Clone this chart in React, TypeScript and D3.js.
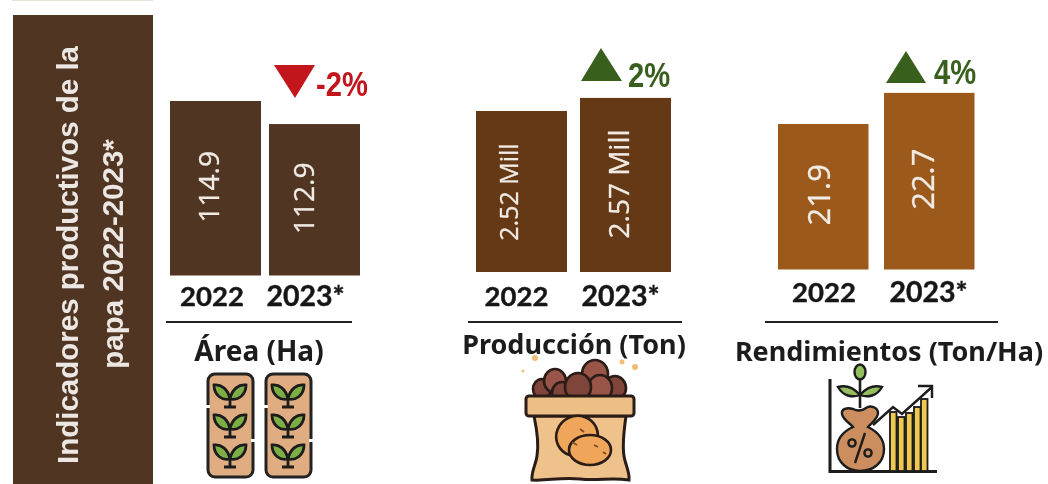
import React from "react";
import * as d3 from "d3";

const years = ["2022", "2023*"];
const areaValues = [114.9, 112.9];
const areaLabels = ["114.9", "112.9"];
const prodValues = [2.52, 2.57];
const prodLabels = ["2.52 Mill", "2.57 Mill"];
const yieldValues = [21.9, 22.7];
const yieldLabels = ["21.9", "22.7"];
const titleLines = ["Indicadores productivos de la", "papa 2022-2023*"];

const areaCfg = { xs: [170, 269], w: 91, base: 275.5, dom: [99.77, 114.9], top: 101, fill: "#4f3523", title: "Área (Ha)", tx: 259, ly: 322, lx: [166, 352], yearX: [212, 305.5], yearY: 306, titleY: 361, titleSize: 28, labelX: [208, 303], labelSize: [28, 28], labelDy: [-1.5, -1.5] };
const prodCfg = { xs: [476, 580], w: 91, base: 272, dom: [1.905, 2.52], top: 111, fill: "#653714", title: "Producción (Ton)", tx: 574, ly: 322, lx: [468, 682], yearX: [516.5, 620.5], yearY: 306, titleY: 354, titleSize: 27, labelX: [508, 618], labelSize: [25, 28], labelDy: [0.5, -1] };
const yieldCfg = { xs: [778, 884], w: 90.5, base: 269.5, dom: [18.16, 21.9], top: 124, fill: "#9b5a1a", title: "Rendimientos (Ton/Ha)", tx: 889, ly: 322, lx: [765, 998], yearX: [824, 928.5], yearY: 302, titleY: 361, titleSize: 27, labelX: [818, 922], labelSize: [31, 31], labelDy: [-2, -2] };

function Bars({ cfg, values, labels }: any) {
  const y = d3.scaleLinear().domain(cfg.dom).range([cfg.base, cfg.top]);
  return (
    <g>
      {values.map((v: number, i: number) => (
        <g key={i}>
          <rect x={cfg.xs[i]} y={y(v)} width={cfg.w} height={cfg.base - y(v)} fill={cfg.fill} />
          <text transform={`translate(${cfg.labelX[i]},${(y(v) + cfg.base) / 2 + cfg.labelDy[i]}) rotate(-90)`} textAnchor="middle" dominantBaseline="central" fill="#f1ebe5" stroke="#f1ebe5" strokeWidth={0.3} fontFamily="Open Sans" fontSize={cfg.labelSize[i]}>{labels[i]}</text>
          <text x={cfg.yearX[i]} y={cfg.yearY} textAnchor="middle" fontFamily="Lato" fontWeight={700} fontSize={i ? 28.5 : 27.5} stroke="#161616" strokeWidth={0.4} fill="#161616">{years[i]}</text>
        </g>
      ))}
      <line x1={cfg.lx[0]} x2={cfg.lx[1]} y1={cfg.ly} y2={cfg.ly} stroke="#222" strokeWidth={2} />
      <text x={cfg.tx} y={cfg.titleY} textAnchor="middle" fontFamily="Noto Sans" fontWeight={700} fontSize={cfg.titleSize} fill="#1c1c1c">{cfg.title}</text>
    </g>
  );
}

function Sprout({ x, y }: { x: number; y: number }) {
  return (
    <g transform={`translate(${x},${y})`}>
      <path d="M0 6C-2 -4 -9 -9 -16 -8C-16 2 -8 8 0 6Z" fill="#7cae44" stroke="#1d1d1d" strokeWidth={2.8} />
      <path d="M0 6C2 -4 9 -9 16 -8C16 2 8 8 0 6Z" fill="#7cae44" stroke="#1d1d1d" strokeWidth={2.8} />
      <path d="M0 6V14M-6 14H6" stroke="#1d1d1d" strokeWidth={2.8} fill="none" />
    </g>
  );
}

function Plots() {
  const plants = [[230, 393], [230, 423], [230, 453], [288, 393], [288, 423], [288, 453]];
  return (
    <g>
      {[208, 266].map((x) => (
        <g key={x}>
          <rect x={x} y={374} width={45} height={103} rx={7} fill="#e0ad82" stroke="#222" strokeWidth={3} />
          <rect x={x - 2} y={405} width={4} height={3} fill="#fff" />
          <rect x={x + 43} y={439} width={4} height={3} fill="#fff" />
        </g>
      ))}
      {plants.map(([x, y]) => <Sprout key={`${x}-${y}`} x={x} y={y} />)}
    </g>
  );
}

function Sack() {
  const tops = [[542, 389, 9], [555, 381, 11], [615, 388, 11], [595, 374, 13], [562, 393, 10], [600, 388, 12], [578, 387, 13]];
  const specks = [[535, 358, 3], [622, 362, 2.5], [635, 367, 3], [523, 371, 1.5]];
  return (
    <g stroke="#2a1a15" strokeWidth={2.6}>
      {specks.map(([cx, cy, r], i) => <circle key={i} cx={cx} cy={cy} r={r} fill="#f2bb78" stroke="none" />)}
      {tops.map(([cx, cy, r], i) => <ellipse key={i} cx={cx} cy={cy} rx={r} ry={r + 1} fill={i % 2 ? "#9a5449" : "#7f443b"} />)}
      <path d="M534 416H626C624 430 622 444 624 456C625 464 630 472 629 480C610 477 600 481 580 479C560 477 548 481 532 480C531 472 536 464 537 456C539 444 537 430 534 416Z" fill="#efc28c" strokeWidth={3} />
      <rect x={526} y={396} width={108} height={20} rx={3} fill="#ecbf86" strokeWidth={3} />
      <ellipse cx={577} cy={436} rx={21} ry={20} fill="#f0a65a" transform="rotate(-25 577 436)" />
      <ellipse cx={590} cy={450} rx={21} ry={15} fill="#f0a65a" />
      <path d="M580 429l4 3M572 442l5 3M594 445l4 2M603 452l3 2" stroke="#7a4a25" strokeWidth={1.6} fill="none" />
    </g>
  );
}

function Growth() {
  const stripes = [[890, 412], [898, 417], [906, 413], [914, 407], [921, 399]];
  return (
    <g fill="none" stroke="#1b1b1b" strokeWidth={2.4}>
      <path d="M830 379V471.5H937" strokeWidth={3} />
      {stripes.map(([x, y]) => (
        <rect key={x} x={x} y={y} width={6.5} height={471 - y} fill="#edc94f" strokeWidth={1.8} />
      ))}
      <path d="M873 425L893 407L902 414L932 387M918 386H932V398" strokeWidth={2.4} />
      <path d="M853 409C847 407 841 409 842 414C843 420 850 423 853 427C842 432 837 440 837 449C837 463 848 471 860 471C873 471 884 463 884 449C884 440 878 432 868 427C871 423 878 419 878 413C878 407 870 405 866 408C862 411 857 411 853 409Z" fill="#cc8e5e" />
      <path d="M860 408V378" strokeWidth={2.6} />
      <path d="M860 395C853 387 846 385 838 387C843 396 852 398 860 395ZM860 395C867 387 874 385 882 387C877 396 868 398 860 395Z" fill="#94bf5e" />
      <ellipse cx={860} cy={372} rx={5.5} ry={7.5} fill="#94bf5e" />
      <path d="M855 463L865 433" />
      <circle cx={852} cy={443} r={3.6} />
      <circle cx={868} cy={453} r={3.6} />
    </g>
  );
}

export default function App() {
  return (
    <svg width={1048} height={484} style={{ position: "absolute", left: 0, top: 0, background: "#fff" }}>
      <defs>
        <filter id="soft" x="-2%" y="-2%" width="104%" height="104%"><feGaussianBlur stdDeviation={0.6} /></filter>
      </defs>
      <g filter="url(#soft)">
        <rect x={12} y={0} width={141} height={1} fill="#dfe5d8" />
        <rect x={13} y={15} width={140} height={469} fill="#4f3523" />
        {titleLines.map((t, i) => (
          <text key={t} transform={`translate(${[78, 123][i]},${[464, 254][i]}) rotate(-90)`} textAnchor={["start", "middle"][i]} fontFamily="Liberation Sans" fontWeight={700} fontSize={29.5} fill="#ece7e2">{t}</text>
        ))}
        <Bars cfg={areaCfg} values={areaValues} labels={areaLabels} />
        <Bars cfg={prodCfg} values={prodValues} labels={prodLabels} />
        <Bars cfg={yieldCfg} values={yieldValues} labels={yieldLabels} />
        <path d="M274 65H315L295 98Z" fill="#c2171d" />
        <text transform="translate(316,96) scale(0.81,1)" fontFamily="Liberation Sans" fontWeight={700} fontSize={36} fill="#c2171d">-2%</text>
        <path d="M581 81H622L601 48Z" fill="#38601f" />
        <text transform="translate(628,87) scale(0.81,1)" fontFamily="Liberation Sans" fontWeight={700} fontSize={36} fill="#38601f">2%</text>
        <path d="M886 83H926L906 51Z" fill="#38601f" />
        <text transform="translate(934,84) scale(0.81,1)" fontFamily="Liberation Sans" fontWeight={700} fontSize={36} fill="#38601f">4%</text>
        <Plots />
        <Sack />
        <Growth />
      </g>
    </svg>
  );
}
